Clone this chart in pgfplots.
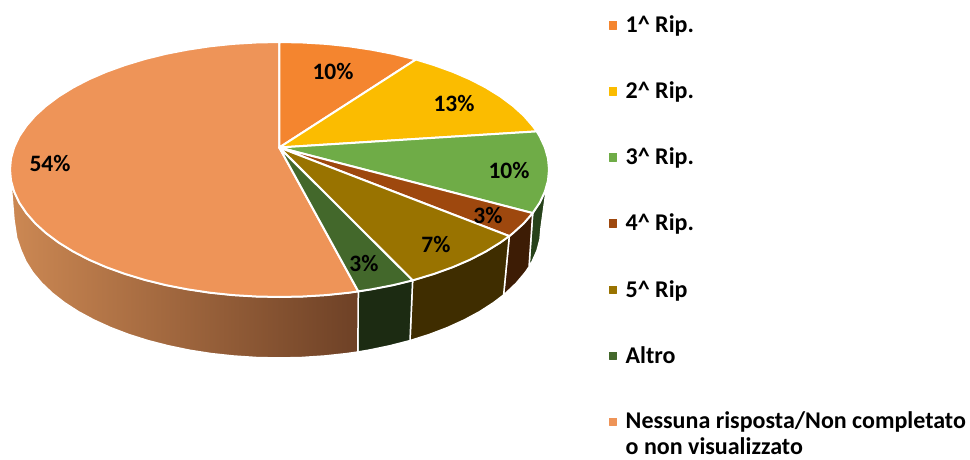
\documentclass[border=0pt]{standalone}
\usepackage{pgfplots}
\pgfplotsset{compat=1.18}
\usepackage{fontspec}
\setmainfont{Carlito}
\definecolor{c1}{HTML}{F4852F}
\definecolor{c2}{HTML}{FBBC00}
\definecolor{c3}{HTML}{6FAC47}
\definecolor{c4}{HTML}{9E480E}
\definecolor{c5}{HTML}{997300}
\definecolor{c6}{HTML}{43682B}
\definecolor{c7}{HTML}{EE9458}
\definecolor{s3}{HTML}{27421B}
\definecolor{s4}{HTML}{3D1C05}
\definecolor{s5}{HTML}{3F2D00}
\definecolor{s6}{HTML}{1C2B12}
\definecolor{s7l}{HTML}{CC8853}
\definecolor{s7r}{HTML}{6E4126}
\begin{document}
\begin{tikzpicture}
\useasboundingbox (0,0) rectangle (970pt,460pt);
\begin{axis}[at={(0,0)},anchor=south west,scale only axis,width=970pt,height=460pt,
  xmin=0,xmax=970,ymin=0,ymax=460,y dir=reverse,hide axis,clip=false,
  every axis plot/.append style={line join=round}]
% sides
\addplot[draw=white,line width=1.5pt,fill=s3] coordinates {(546.5,188)(544.9,191.6)(539.8,202.5)(532.7,213.1)(529,267)(532.1,261.6)(537,250.6)(540,239.3)(541,228)} -- cycle;
\addplot[draw=white,line width=1.5pt,fill=s4] coordinates {(532.7,213.1)(523.7,223.4)(512.9,233.2)(509.3,236.1)(503.6,295)(505.9,293)(516.5,282.9)(525.2,272.5)(529,267)} -- cycle;
\addplot[draw=white,line width=1.5pt,fill=s5] coordinates {(509.3,236.1)(500.3,242.6)(485.9,251.5)(470.1,259.7)(452.7,267.2)(434.1,273.9)(414.3,279.9)(412.6,280.4)(410,340.6)(429.3,334.5)(447.4,327.6)(464.3,319.9)(479.7,311.6)(493.6,302.6)(503.6,295)} -- cycle;
\addplot[draw=white,line width=1.5pt,fill=s6] coordinates {(412.6,280.4)(393.4,285.1)(371.7,289.3)(358.3,291.4)(357.8,352)(368.6,350.2)(389.7,345.8)(410,340.6)} -- cycle;
\addplot[draw=white,line width=1.5pt,left color=s7l,right color=s7r] coordinates {(358.3,291.4)(349.2,292.7)(326.3,295.1)(303,296.5)(279.5,297)(256,296.5)(232.7,295.1)(209.8,292.7)(187.3,289.3)(165.6,285.1)(144.7,279.9)(124.9,273.9)(106.3,267.2)(88.9,259.7)(73.1,251.5)(58.7,242.6)(46.1,233.2)(35.3,223.4)(26.3,213.1)(19.2,202.5)(14.1,191.6)(11,183)(14,220)(16.7,238)(21,250.6)(25.9,261.6)(32.8,272.5)(41.5,282.9)(52.1,293)(64.4,302.6)(78.3,311.6)(93.7,319.9)(110.6,327.6)(128.7,334.5)(148,340.6)(168.3,345.8)(189.4,350.2)(211.2,353.6)(233.5,356)(256.2,357.5)(279,358)(301.8,357.5)(324.5,356)(346.8,353.6)(357.8,352)} -- cycle;
% top wedges
\addplot[draw=white,line width=2pt,fill=c7] coordinates {(279.3,147.5)(358.3,291.4)(349.2,292.7)(326.3,295.1)(303,296.5)(279.5,297)(256,296.5)(232.7,295.1)(209.8,292.7)(187.3,289.3)(165.6,285.1)(144.7,279.9)(124.9,273.9)(106.3,267.2)(88.9,259.7)(73.1,251.5)(58.7,242.6)(46.1,233.2)(35.3,223.4)(26.3,213.1)(19.2,202.5)(14.1,191.6)(11,180.6)(10,169.5)(11,158.4)(14.1,147.4)(19.2,136.5)(26.3,125.9)(35.3,115.6)(46.1,105.8)(58.7,96.4)(73.1,87.5)(88.9,79.3)(106.3,71.8)(124.9,65.1)(144.7,59.1)(165.6,53.9)(187.3,49.7)(209.8,46.3)(232.7,43.9)(256,42.5)(279.5,42)} -- cycle;
\addplot[draw=white,line width=2pt,fill=c1] coordinates {(279.3,147.5)(279.5,42)(303,42.5)(326.3,43.9)(349.2,46.3)(371.7,49.7)(393.4,53.9)(414.3,59.1)(415.9,59.5)} -- cycle;
\addplot[draw=white,line width=2pt,fill=c2] coordinates {(279.3,147.5)(415.9,59.5)(434.1,65.1)(452.7,71.8)(470.1,79.3)(485.9,87.5)(500.3,96.4)(512.9,105.8)(523.7,115.6)(532.7,125.9)(536.7,131.4)} -- cycle;
\addplot[draw=white,line width=2pt,fill=c3] coordinates {(279.3,147.5)(536.7,131.4)(539.8,136.5)(544.9,147.4)(548,158.4)(549,169.5)(548,180.6)(544.9,191.6)(539.8,202.5)(532.7,213.1)} -- cycle;
\addplot[draw=white,line width=2pt,fill=c4] coordinates {(279.3,147.5)(532.7,213.1)(523.7,223.4)(512.9,233.2)(509.3,236.1)} -- cycle;
\addplot[draw=white,line width=2pt,fill=c5] coordinates {(279.3,147.5)(509.3,236.1)(500.3,242.6)(485.9,251.5)(470.1,259.7)(452.7,267.2)(434.1,273.9)(414.3,279.9)(412.6,280.4)} -- cycle;
\addplot[draw=white,line width=2pt,fill=c6] coordinates {(279.3,147.5)(412.6,280.4)(393.4,285.1)(371.7,289.3)(358.3,291.4)} -- cycle;
% legend markers
\addplot[only marks,mark=square*,mark size=3.8pt,color=c1] coordinates {(612.7,25)};
\addplot[only marks,mark=square*,mark size=3.8pt,color=c2] coordinates {(612.7,91)};
\addplot[only marks,mark=square*,mark size=3.8pt,color=c3] coordinates {(612.7,157)};
\addplot[only marks,mark=square*,mark size=3.8pt,color=c4] coordinates {(612.7,223)};
\addplot[only marks,mark=square*,mark size=3.8pt,color=c5] coordinates {(612.7,289.5)};
\addplot[only marks,mark=square*,mark size=3.8pt,color=c6] coordinates {(612.7,355.5)};
\addplot[only marks,mark=square*,mark size=3.8pt,color=c7] coordinates {(612.7,421.5)};
% data labels
\tikzset{dl/.style={font=\fontsize{23.5}{26}\selectfont\bfseries,inner sep=0pt,anchor=center,text=black},
 lg/.style={font=\fontsize{24}{28}\selectfont\bfseries,inner sep=0pt,anchor=base west,text=black}}
\node[dl] at (axis cs:333,71) {10\%};
\node[dl] at (axis cs:454,103) {13\%};
\node[dl] at (axis cs:509,170) {10\%};
\node[dl] at (axis cs:488,215) {3\%};
\node[dl] at (axis cs:436,244) {7\%};
\node[dl] at (axis cs:364,263) {3\%};
\node[dl] at (axis cs:50,163) {54\%};
\node[lg] at (axis cs:625.5,32.5) {1\textasciicircum{} Rip.};
\node[lg] at (axis cs:625.5,98.5) {2\textasciicircum{} Rip.};
\node[lg] at (axis cs:625.5,164.5) {3\textasciicircum{} Rip.};
\node[lg] at (axis cs:625.5,230.5) {4\textasciicircum{} Rip.};
\node[lg] at (axis cs:625.5,297) {5\textasciicircum{} Rip};
\node[lg] at (axis cs:625.5,363.5) {Altro};
\node[lg] at (axis cs:625.5,428.5) {Nessuna risposta/Non completato};
\node[lg] at (axis cs:625.5,454) {o non visualizzato};
\end{axis}
\end{tikzpicture}
\end{document}
